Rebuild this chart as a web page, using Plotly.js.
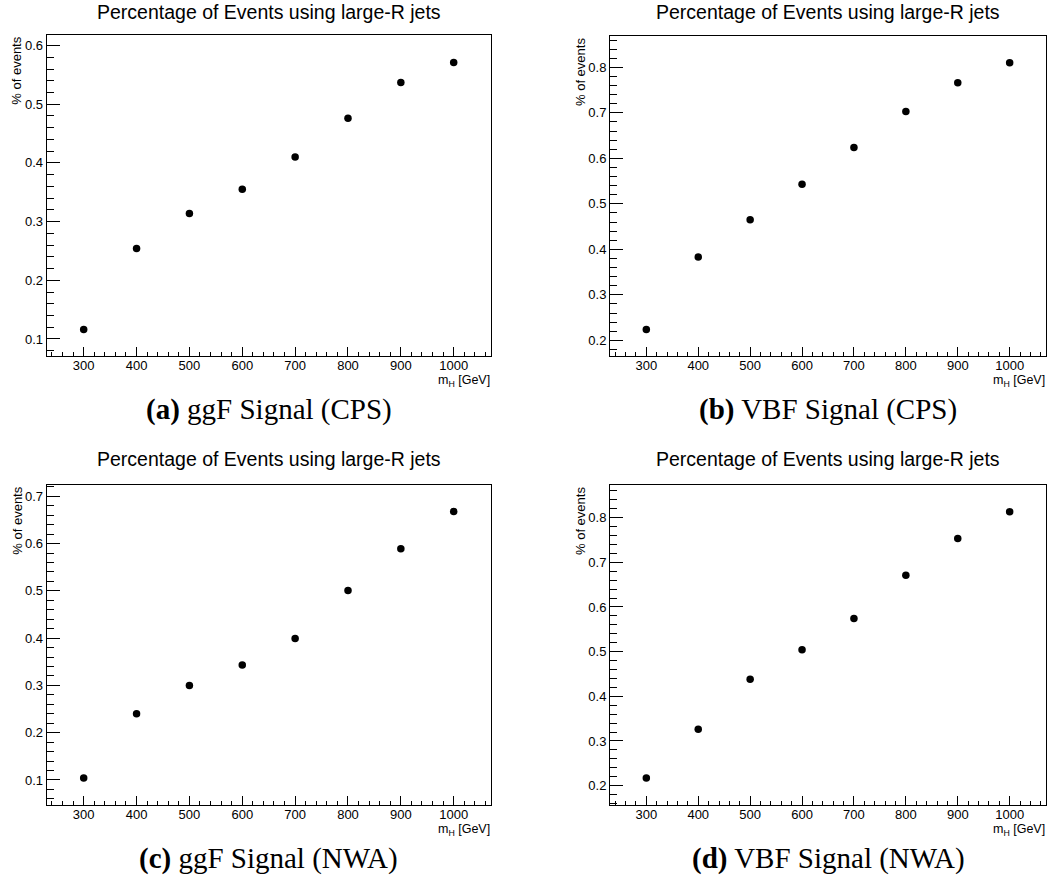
<!DOCTYPE html>
<html>
<head>
<meta charset="utf-8">
<script src="https://cdn.plot.ly/plotly-3.0.1.min.js"></script>
<style>
html,body{margin:0;padding:0;background:#fff;}
#chart{width:1063px;height:882px;}
</style>
</head>
<body>
<div id="chart"></div>
<script>
// ---- data ----
const massPoints = [300, 400, 500, 600, 700, 800, 900, 1000];
const ggF_CPS = [0.116, 0.254, 0.314, 0.355, 0.410, 0.476, 0.537, 0.571];
const VBF_CPS = [0.224, 0.383, 0.465, 0.543, 0.624, 0.703, 0.766, 0.810];
const ggF_NWA = [0.104, 0.240, 0.300, 0.343, 0.399, 0.501, 0.589, 0.668];
const VBF_NWA = [0.217, 0.326, 0.438, 0.504, 0.574, 0.671, 0.753, 0.813];
const panelTitle = "Percentage of Events using large-R jets";
const yTitle = "% of events";
const xTitle = "m<sub>H</sub> [GeV]";
const captions = ["<b>(a)</b> ggF Signal (CPS)", "<b>(b)</b> VBF Signal (CPS)",
                  "<b>(c)</b> ggF Signal (NWA)", "<b>(d)</b> VBF Signal (NWA)"];
const seriesList = [ggF_CPS, VBF_CPS, ggF_NWA, VBF_NWA];

// ---- layout geometry (pixels) ----
const W = 1063, H = 882;
const px = v => v / W;
const py = v => 1 - v / H;
const panels = [
  {l: 46.7, r: 490.7, t: 35, b: 356, yr: [0.071, 0.618], titleY: 12.5},
  {l: 610,  r: 1046,  t: 36, b: 356, yr: [0.1656, 0.869], titleY: 12.5},
  {l: 46.7, r: 490.7, t: 485, b: 805, yr: [0.047, 0.724], titleY: 458.5},
  {l: 610,  r: 1046,  t: 485, b: 805, yr: [0.1567, 0.873], titleY: 458.5}
];
const sans = "Liberation Sans, Arial, Helvetica, sans-serif";
const serif = "Liberation Serif, Times New Roman, serif";

const data = [];
const layout = {
  width: W, height: H,
  margin: {l: 0, r: 0, t: 0, b: 0},
  paper_bgcolor: "#fff", plot_bgcolor: "#fff",
  showlegend: false,
  annotations: []
};

panels.forEach((p, i) => {
  const n = i + 1;
  const xa = n === 1 ? "xaxis" : "xaxis" + n;
  const ya = n === 1 ? "yaxis" : "yaxis" + n;
  data.push({
    x: massPoints, y: seriesList[i],
    xaxis: "x" + (n === 1 ? "" : n), yaxis: "y" + (n === 1 ? "" : n),
    type: "scatter", mode: "markers",
    marker: {color: "#000", size: 7.5},
    hoverinfo: "x+y"
  });
  layout[xa] = {
    domain: [px(p.l), px(p.r)], anchor: "y" + (n === 1 ? "" : n),
    range: [230, 1070], showgrid: false, zeroline: false,
    showline: true, mirror: true, linecolor: "#000", linewidth: 1,
    ticks: "inside", ticklen: 9, tickwidth: 1, tickcolor: "#000",
    tick0: 0, dtick: 100, ticklabelstandoff: -3,
    minor: {ticks: "inside", ticklen: 4.5, tickwidth: 1, tickcolor: "#000", dtick: 20, tick0: 0, showgrid: false},
    tickfont: {family: sans, size: 13, color: "#000"}
  };
  layout[ya] = {
    domain: [py(p.b), py(p.t)], anchor: "x" + (n === 1 ? "" : n),
    range: p.yr, showgrid: false, zeroline: false,
    showline: true, mirror: true, linecolor: "#000", linewidth: 1,
    ticks: "inside", ticklen: 13, tickwidth: 1, tickcolor: "#000",
    tick0: 0, dtick: 0.1, tickformat: ".1f",
    minor: {ticks: "inside", ticklen: 7, tickwidth: 1, tickcolor: "#000", dtick: 0.02, tick0: 0, showgrid: false},
    tickfont: {family: sans, size: 13, color: "#000"}
  };
  const cx = (p.l + p.r) / 2;
  // panel title
  layout.annotations.push({
    xref: "paper", yref: "paper", x: px(cx), y: py(p.titleY),
    xanchor: "center", yanchor: "middle", showarrow: false,
    text: panelTitle, font: {family: sans, size: 19.5, color: "#000"}
  });
  // y title
  layout.annotations.push({
    xref: "paper", yref: "paper", x: px(p.l - 30), y: py(p.t),
    xanchor: "center", yanchor: "top", showarrow: false, textangle: -90,
    text: yTitle, font: {family: sans, size: 13, color: "#000"}
  });
  // x title
  layout.annotations.push({
    xref: "paper", yref: "paper", x: px(p.r + 1), y: py(p.b + 25),
    xanchor: "right", yanchor: "middle", showarrow: false,
    text: xTitle, font: {family: sans, size: 12.5, color: "#000"}
  });
  // caption
  layout.annotations.push({
    xref: "paper", yref: "paper", x: px(cx), y: py(p.b + 53),
    xanchor: "center", yanchor: "middle", showarrow: false,
    text: captions[i], font: {family: serif, size: 29, color: "#000"}
  });
});

Plotly.newPlot("chart", data, layout, {staticPlot: true});
</script>
</body>
</html>
